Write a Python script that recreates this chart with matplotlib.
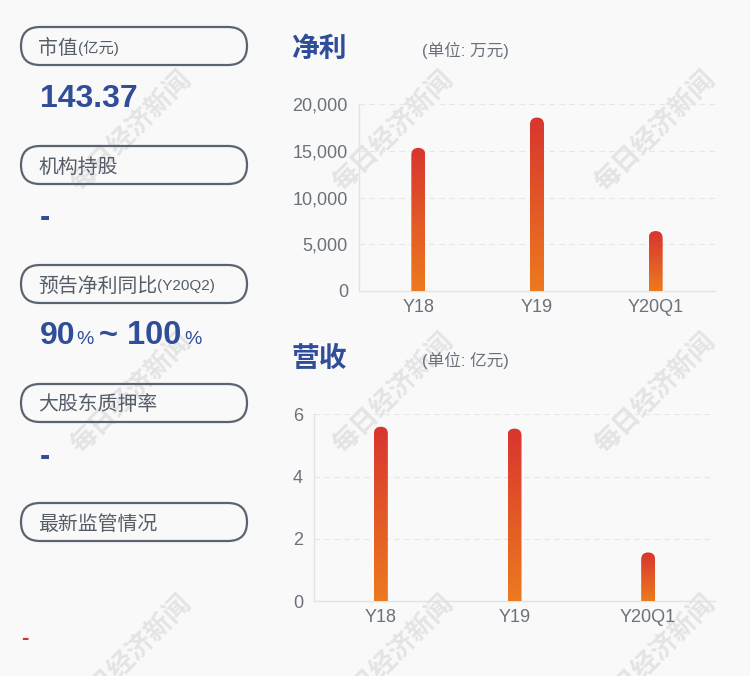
import matplotlib
matplotlib.use('Agg')
import matplotlib.pyplot as plt
import numpy as np
from matplotlib.patches import FancyBboxPatch
from matplotlib.transforms import IdentityTransform

plt.rcParams['font.family'] = ['Liberation Sans', 'Noto Sans CJK SC', 'DejaVu Sans']

# 数据
years = ['Y18', 'Y19', 'Y20Q1']
net_profit = [15330, 18580, 6420]      # 万元
revenue = [5.60, 5.54, 1.56]           # 亿元

W, H = 750, 676
BG = '#f9f9f9'
BLUE = '#2f4d99'
GRAY_TXT = '#555d68'
TICK = '#6b717b'

fig = plt.figure(figsize=(W / 100, H / 100), dpi=100, facecolor=BG)


def fx(x):
    return x / W


def fy(y):
    return 1 - y / H


# 水印
for wx in (131, 393, 655):
    for wy in (131, 393, 655):
        fig.text(fx(wx), fy(wy), '每日经济新闻', rotation=45, fontsize=19,
                 fontweight='bold', color='#e4e4e4', ha='center', va='center',
                 family=['Noto Sans CJK SC'], zorder=-1)

# 左侧信息框
boxes_y = [27, 146, 265, 384, 503]
box_labels = ['市值', '机构持股', '预告净利同比', '大股东质押率', '最新监管情况']
for by, lab in zip(boxes_y, box_labels):
    p = FancyBboxPatch((21 / 100, (H - by - 38) / 100), 226 / 100, 38 / 100,
                       boxstyle='round,pad=0,rounding_size=0.19',
                       transform=fig.dpi_scale_trans, facecolor='none',
                       edgecolor='#5a6470', linewidth=1.6)
    fig.patches.append(p)
    fig.text(fx(38), fy(by + 21), lab, fontsize=14.3, color=GRAY_TXT,
             ha='left', va='center')

fig.text(fx(78), fy(48), '(亿元)', fontsize=11, color=GRAY_TXT, ha='left', va='center')
fig.text(fx(157), fy(286), '(Y20Q2)', fontsize=11, color=GRAY_TXT, ha='left', va='center')

fig.text(fx(40), fy(99), '143.37', fontsize=23, fontweight='bold', color=BLUE,
         ha='left', va='center')
fig.text(fx(40), fy(218), '-', fontsize=22, fontweight='bold', color=BLUE,
         ha='left', va='center')
fig.text(fx(40), fy(336), '90', fontsize=23, fontweight='bold', color=BLUE,
         ha='left', va='center')
fig.text(fx(76), fy(340), '%', fontsize=14, color=BLUE, ha='left', va='center')
fig.text(fx(99), fy(336), '~ 100', fontsize=23.5, fontweight='bold', color=BLUE,
         ha='left', va='center')
fig.text(fx(184), fy(340), '%', fontsize=14, color=BLUE, ha='left', va='center')
fig.text(fx(40), fy(457), '-', fontsize=22, fontweight='bold', color=BLUE,
         ha='left', va='center')
fig.text(fx(21), fy(638), '-', fontsize=16, fontweight='bold', color='#d93030',
         ha='left', va='center')


def make_chart(rect, values, ymax, yticks, fmt, title, unit, title_y, title_x):
    ax = fig.add_axes(rect)
    ax.set_facecolor('none')
    x = np.arange(len(years))
    bars = ax.bar(x, values, width=14 / (rect[2] * W) * len(years), color='none')
    ax.set_xlim(-0.5, len(years) - 0.5)
    ax.set_ylim(0, ymax)
    ax.set_xticks(x)
    ax.set_xticklabels(years)
    ax.set_yticks(yticks)
    ax.set_yticklabels([fmt(v) for v in yticks])
    ax.tick_params(length=0, labelsize=13, colors=TICK, pad=8)
    ax.tick_params(axis='x', pad=6)
    for s in ('top', 'right'):
        ax.spines[s].set_visible(False)
    for s in ('left', 'bottom'):
        ax.spines[s].set_color('#e3e3e3')
        ax.spines[s].set_linewidth(1)
    ax.grid(axis='y', color='#e6e6e6', linestyle=(0, (5, 4)), linewidth=0.8)
    ax.set_axisbelow(True)

    # 渐变柱 + 圆顶
    fig.canvas.draw()
    grad = np.linspace(0, 1, 256).reshape(-1, 1)
    cmap = matplotlib.colors.LinearSegmentedColormap.from_list(
        'g', ['#ec7a1e', '#d8352f'])
    for b in bars:
        x0, y0, w, h = b.get_x(), b.get_y(), b.get_width(), b.get_height()
        im = ax.imshow(grad, extent=[x0, x0 + w, y0, y0 + h], origin='lower',
                       cmap=cmap, aspect='auto', zorder=3, interpolation='bilinear')
        (px0, py0), (px1, py1) = ax.transData.transform([(x0, y0), (x0 + w, y0 + h)])
        r = (px1 - px0) / 2
        clip = FancyBboxPatch((px0, py0 - 20), px1 - px0, py1 - py0 + 20,
                              boxstyle='round,pad=0,rounding_size=%f' % r,
                              transform=IdentityTransform())
        im.set_clip_path(clip)
    ax.set_xlim(-0.5, len(years) - 0.5)
    ax.set_ylim(0, ymax)

    fig.text(fx(title_x), fy(title_y), title, fontsize=20, fontweight='bold',
             color=BLUE, ha='left', va='center')
    fig.text(fx(422), fy(title_y), unit, fontsize=12, color=TICK,
             ha='left', va='center')
    return ax


make_chart([359 / W, 1 - 291 / H, 356 / W, 186.7 / H], net_profit, 20000,
           [0, 5000, 10000, 15000, 20000], lambda v: f'{v:,}',
           '净利', '(单位: 万元)', 50, 291)
make_chart([314 / W, 1 - 601 / H, 401 / W, 186.7 / H], revenue, 6,
           [0, 2, 4, 6], lambda v: f'{v}',
           '营收', '(单位: 亿元)', 360, 291)

fig.savefig('out.png', dpi=100, facecolor=BG)
